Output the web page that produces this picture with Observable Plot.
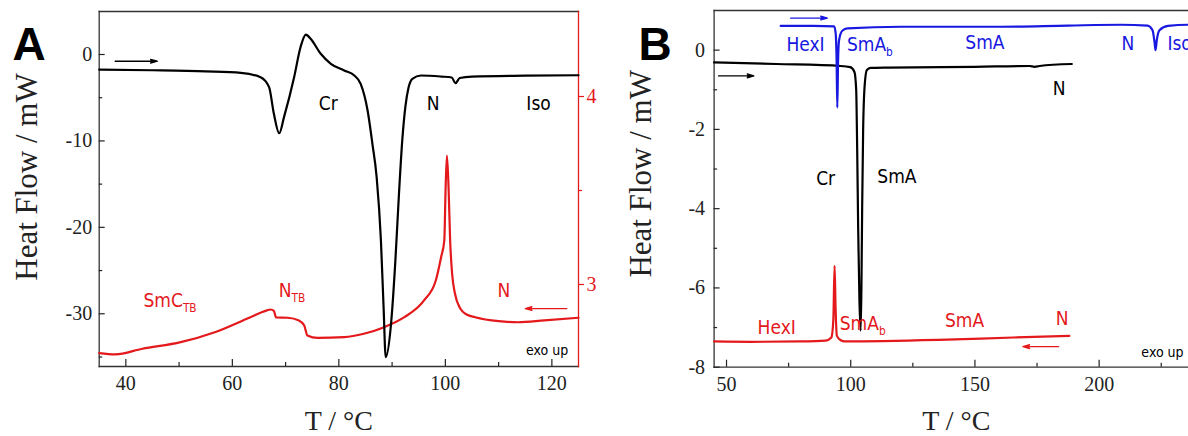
<!DOCTYPE html>
<html><head><meta charset="utf-8">
<script src="https://cdn.jsdelivr.net/npm/d3@7"></script>
<script src="https://cdn.jsdelivr.net/npm/@observablehq/plot@0.6"></script>
<style>
html,body{margin:0;padding:0;background:#fff;overflow:hidden;}
#wrap{position:relative;width:1230px;height:436px;}
#a{position:absolute;left:0;top:0;}
#b{position:absolute;left:600px;top:0;}
</style></head><body><div id="wrap"><div id="a"></div><div id="b"></div></div>
<script>
// ---------- Panel A data ----------
const aHeatT  = [35, 45, 55, 61.6, 65.3, 66.9, 67.8, 68.8, 69.7, 71.6, 72.8, 73.8, 74.7, 76.6, 78.5, 81.0, 82.9, 84.1, 85.4, 86.3, 87.1, 87.9, 88.4, 88.8, 89.8, 90.6, 91.3, 91.9, 92.5, 93.1, 93.8, 95.4, 99.2, 101.2, 101.9, 102.7, 105, 115, 125];
const aHeatHF = [-1.74, -1.82, -1.95, -2.12, -2.63, -3.78, -6.86, -9.11, -7.25, -2.63, 0.84, 2.31, 1.82, 0.08, -1.08, -1.85, -2.43, -3.39, -6.48, -10.33, -14.2, -21.52, -29.24, -35.02, -31.16, -24.0, -16.0, -10.0, -6.0, -3.8, -2.81, -2.43, -2.55, -2.66, -3.32, -2.72, -2.55, -2.45, -2.40];
// cooling curve, in units of the red right-hand axis
const aCoolT  = [35.0, 38.0, 43.1, 50.3, 56.7, 63.4, 66.5, 67.2, 67.8, 68.2, 70.4, 72.5, 73.5, 74.1, 76.0, 81.0, 84.7, 88.5, 92.3, 96.0, 98.2, 99.2, 99.8, 100.05, 100.3, 100.6, 100.9, 101.3, 101.8, 102.8, 104.0, 105.6, 110.0, 113.6, 118.6, 125.0];
const aCoolHF = [2.635, 2.628, 2.658, 2.693, 2.746, 2.826, 2.862, 2.867, 2.860, 2.825, 2.823, 2.809, 2.782, 2.729, 2.716, 2.720, 2.738, 2.773, 2.826, 2.915, 3.021, 3.145, 3.234, 3.516, 3.686, 3.516, 3.234, 3.048, 2.952, 2.872, 2.840, 2.826, 2.805, 2.799, 2.809, 2.823];
const aXTicks = [40, 60, 80, 100, 120];
const aXMinor = [50, 70, 90, 110];
const aYTicks = [0, -10, -20, -30];
const aYMinor = [-5, -15, -25, -35];
const aRTicks = [3, 4];
const aRMinor = [3.5];
// alignment of the red right axis with the left axis (right value -> left value)
const aRightValues = [3, 4];
const aRightOnLeft = [-26.61, -4.86];

// ---------- Panel B data ----------
const bHeatT  = [45, 70, 96, 99.8, 101.5, 102.2, 102.6, 103.0, 103.5, 104.0, 104.3, 104.6, 105.0, 105.6, 106.5, 108, 115, 150, 172, 174, 176, 189];
const bHeatHF = [-0.31, -0.35, -0.40, -0.43, -0.55, -1.0, -2.5, -4.5, -6.3, -7.08, -6.0, -4.0, -2.0, -0.9, -0.5, -0.45, -0.44, -0.42, -0.40, -0.42, -0.40, -0.35];
const bHeat2T  = [71.8, 85, 93.3, 93.9, 94.3, 94.6, 94.9, 95.3, 96.6, 98.7, 120.2, 160.5, 187.4, 208.9, 219.5, 221.5, 222.3, 222.7, 223.2, 224.3, 227.7, 236.3, 240];
const bHeat2HF = [0.61, 0.61, 0.60, 0.45, -0.2, -1.45, -0.3, 0.25, 0.49, 0.55, 0.59, 0.59, 0.62, 0.64, 0.62, 0.50, 0.2, 0.0, 0.25, 0.50, 0.61, 0.64, 0.64];
const bCoolT  = [45, 60, 80, 89.9, 92.2, 93.0, 93.5, 93.9, 94.4, 95.5, 97.4, 135.3, 165.5, 188];
const bCoolHF = [-7.35, -7.36, -7.35, -7.33, -7.25, -6.8, -5.44, -6.5, -7.2, -7.3, -7.35, -7.31, -7.25, -7.21];
const bXTicks = [50, 100, 150, 200];
const bXMinor = [75, 125, 175, 225];
const bYTicks = [0, -2, -4, -6, -8];
const bYMinor = [-1, -3, -5, -7];

// ---------- annotations ----------
const RED = "#e3191c", BLUE = "#1818e0", BLACK = "#000";
const labelsAText  = ["Cr", "N", "Iso", "SmC_TB", "N_TB", "N", "exo up"];
const labelsAT     = [78.0, 97.7, 117.5, 48.3, 71.2, 111.0, 119.1];
const labelsAHF    = [-5.67, -5.67, -5.67, -28.46, -27.3, -27.3, -34.25];
const labelsAColor = [BLACK, BLACK, BLACK, RED, RED, RED, BLACK];
const labelsASize  = [19, 19, 19, 19, 19, 19, 14];
const arrowsAX1 = [38.0, 122.8], arrowsAX2 = [45.9, 115.0];
const arrowsAY  = [-0.78, null], arrowsAYRight = [null, 2.872];
const arrowsAColor = [BLACK, RED];

const labelsBText  = ["HexI", "SmA_b", "SmA", "N", "Iso", "N", "Cr", "SmA", "HexI", "SmA_b", "SmA", "N", "exo up"];
const labelsBT     = [81.8, 107.7, 154.0, 211.6, 232.4, 183.9, 89.9, 118.6, 70.2, 104.8, 145.8, 185.1, 225.5];
const labelsBHF    = [0.14, 0.14, 0.18, 0.16, 0.16, -0.98, -3.25, -3.21, -7.0, -6.9, -6.83, -6.78, -7.63];
const labelsBColor = [BLUE, BLUE, BLUE, BLUE, BLUE, BLACK, BLACK, BLACK, RED, RED, RED, RED, BLACK];
const labelsBSize  = [19, 19, 19, 19, 19, 19, 19, 19, 19, 19, 19, 19, 14];
const arrowsBX1 = [75.8, 46.8, 183.7], arrowsBX2 = [90.6, 61.0, 169.3];
const arrowsBY  = [0.81, -0.65, -7.48];
const arrowsBColor = [BLUE, BLACK, RED];

// ---------- helpers ----------
const SERIF = "Liberation Serif, Times New Roman, serif";
const SANS = "DejaVu Sans Condensed, Liberation Sans Narrow, Liberation Sans, Arial, sans-serif";
const AX = "#222";
const toLeft = d3.scaleLinear(aRightValues, aRightOnLeft);
const rows = (T, V, f = v => v) => T.map((t, i) => ({T: t, HF: f(V[i])}));
const labelRows = (txt, T, HF, col, size) => txt.map((t, i) => ({text: t, T: T[i], HF: HF[i], color: col[i], size: size[i]}));

function finish(svg) {
  const s = d3.select(svg);
  // subscripts written as "main_sub"
  s.selectAll("text").each(function () {
    const t = this.textContent;
    const m = t.match(/^(.+)_(.+)$/);
    if (m) {
      this.textContent = m[1];
      d3.select(this).append("tspan").attr("dy", "0.45em").attr("font-size", "0.62em").text(m[2]);
    }
  });
  // filled arrow heads
  s.selectAll('g[aria-label="arrow"] path').each(function () {
    const c = this.getAttribute("stroke") || this.parentNode.getAttribute("stroke");
    this.setAttribute("fill", c);
  });
  return svg;
}

function axesMarks({xTicks, xMinor, yTicks, yMinor, yPad}) {
  return [
    Plot.axisX({ticks: xTicks, tickSize: 7, dy: -7, fill: "none", stroke: AX, strokeWidth: 1.2, label: null}),
    Plot.axisX({ticks: xMinor, tickSize: 4, dy: -4, fill: "none", stroke: AX, strokeWidth: 1.2, label: null}),
    Plot.text(xTicks, {x: d => d, text: d => String(d), frameAnchor: "bottom", dy: 17, textAnchor: "middle", lineAnchor: "middle", fill: AX, fontSize: 20, fontFamily: SERIF}),
    Plot.axisY({ticks: yTicks, anchor: "left", tickSize: 6, dx: 6, fill: "none", stroke: AX, strokeWidth: 1.2, label: null}),
    Plot.axisY({ticks: yMinor, anchor: "left", tickSize: 3.5, dx: 3.5, fill: "none", stroke: AX, strokeWidth: 1.2, label: null}),
    Plot.text(yTicks, {y: d => d, text: d => String(d), frameAnchor: "left", dx: -yPad, textAnchor: "end", lineAnchor: "middle", fill: AX, fontSize: 20, fontFamily: SERIF})
  ];
}

// ---------- Panel A ----------
const aArrows = arrowsAX1.map((x1, i) => {
  const y = arrowsAY[i] != null ? arrowsAY[i] : toLeft(arrowsAYRight[i]);
  return {x1, x2: arrowsAX2[i], y1: y, y2: y, color: arrowsAColor[i]};
});
const chartA = Plot.plot({
  width: 600, height: 436,
  marginLeft: 98.7, marginRight: 22, marginTop: 11, marginBottom: 70,
  x: {domain: [35, 125]},
  y: {domain: [-36.1, 4.975]},
  color: {type: "identity"},
  marks: [
    Plot.frame({anchor: "top", stroke: "#333", strokeWidth: 1.3}),
    Plot.frame({anchor: "left", stroke: "#333", strokeWidth: 1.3}),
    Plot.frame({anchor: "bottom", stroke: "#333", strokeWidth: 1.3}),
    Plot.frame({anchor: "right", stroke: RED, strokeWidth: 1.3}),
    ...axesMarks({xTicks: aXTicks, xMinor: aXMinor, yTicks: aYTicks, yMinor: aYMinor, yPad: 7}),
    Plot.axisY({ticks: aRTicks.map(toLeft), anchor: "right", tickSize: 5, fill: "none", stroke: RED, strokeWidth: 1.2, label: null}),
    Plot.axisY({ticks: aRMinor.map(toLeft), anchor: "right", tickSize: 3, fill: "none", stroke: RED, strokeWidth: 1.2, label: null}),
    Plot.text(aRTicks, {y: d => toLeft(d), text: d => String(d), frameAnchor: "right", dx: 8, textAnchor: "start", lineAnchor: "middle", fill: RED, fontSize: 20, fontFamily: SERIF}),
    Plot.line(rows(aCoolT, aCoolHF, toLeft), {x: "T", y: "HF", stroke: RED, strokeWidth: 2.2, curve: "monotone-x"}),
    Plot.line(rows(aHeatT, aHeatHF), {x: "T", y: "HF", stroke: BLACK, strokeWidth: 2.2, curve: "monotone-x"}),
    Plot.arrow(aArrows, {x1: "x1", y1: "y1", x2: "x2", y2: "y2", stroke: "color", strokeWidth: 1.3, headLength: 8, headAngle: 32}),
    Plot.text(labelRows(labelsAText, labelsAT, labelsAHF, labelsAColor, labelsASize), {x: "T", y: "HF", text: "text", fill: "color", fontSize: "size", fontFamily: SANS}),
    Plot.text(["A"], {text: d => d, frameAnchor: "top-left", textAnchor: "middle", lineAnchor: "middle", dx: -70, dy: 34, fontSize: 46, fontWeight: "bold", fontFamily: "Liberation Sans, Arial, sans-serif", fill: "#000"}),
    Plot.text(["Heat Flow / mW"], {text: d => d, frameAnchor: "left", rotate: -90, dx: -72, dy: -12, textAnchor: "middle", lineAnchor: "middle", fontSize: 31, fontFamily: SERIF, fill: AX}),
    Plot.text(["T / °C"], {text: d => d, frameAnchor: "bottom", dy: 55, textAnchor: "middle", lineAnchor: "middle", fontSize: 28, fontFamily: SERIF, fill: AX})
  ]
});
document.getElementById("a").append(finish(chartA));

// ---------- Panel B ----------
const bArrows = arrowsBX1.map((x1, i) => ({x1, x2: arrowsBX2[i], y1: arrowsBY[i], y2: arrowsBY[i], color: arrowsBColor[i]}));
const chartB = Plot.plot({
  width: 620, height: 436,
  marginLeft: 113.6, marginRight: 22, marginTop: 10, marginBottom: 69.3,
  x: {domain: [45, 240]},
  y: {domain: [-8, 1]},
  color: {type: "identity"},
  marks: [
    Plot.frame({anchor: "top", stroke: "#333", strokeWidth: 1.3}),
    Plot.frame({anchor: "left", stroke: "#333", strokeWidth: 1.3}),
    Plot.frame({anchor: "bottom", stroke: "#333", strokeWidth: 1.3}),
    ...axesMarks({xTicks: bXTicks, xMinor: bXMinor, yTicks: bYTicks, yMinor: bYMinor, yPad: 9}),
    Plot.line(rows(bCoolT, bCoolHF), {x: "T", y: "HF", stroke: RED, strokeWidth: 2.2, curve: "monotone-x"}),
    Plot.line(rows(bHeatT, bHeatHF), {x: "T", y: "HF", stroke: BLACK, strokeWidth: 2.2, curve: "monotone-x"}),
    Plot.line(rows(bHeat2T, bHeat2HF), {x: "T", y: "HF", stroke: BLUE, strokeWidth: 2.2, curve: "monotone-x"}),
    Plot.arrow(bArrows, {x1: "x1", y1: "y1", x2: "x2", y2: "y2", stroke: "color", strokeWidth: 1.3, headLength: 8, headAngle: 32}),
    Plot.text(labelRows(labelsBText, labelsBT, labelsBHF, labelsBColor, labelsBSize), {x: "T", y: "HF", text: "text", fill: "color", fontSize: "size", fontFamily: SANS}),
    Plot.text(["B"], {text: d => d, frameAnchor: "top-left", textAnchor: "middle", lineAnchor: "middle", dx: -59, dy: 35, fontSize: 46, fontWeight: "bold", fontFamily: "Liberation Sans, Arial, sans-serif", fill: "#000"}),
    Plot.text(["Heat Flow / mW"], {text: d => d, frameAnchor: "left", rotate: -90, dx: -73, dy: -15, textAnchor: "middle", lineAnchor: "middle", fontSize: 31, fontFamily: SERIF, fill: AX}),
    Plot.text(["T / °C"], {text: d => d, frameAnchor: "bottom", dy: 54, textAnchor: "middle", lineAnchor: "middle", fontSize: 28, fontFamily: SERIF, fill: AX})
  ]
});
document.getElementById("b").append(finish(chartB));
</script>
</body></html>
